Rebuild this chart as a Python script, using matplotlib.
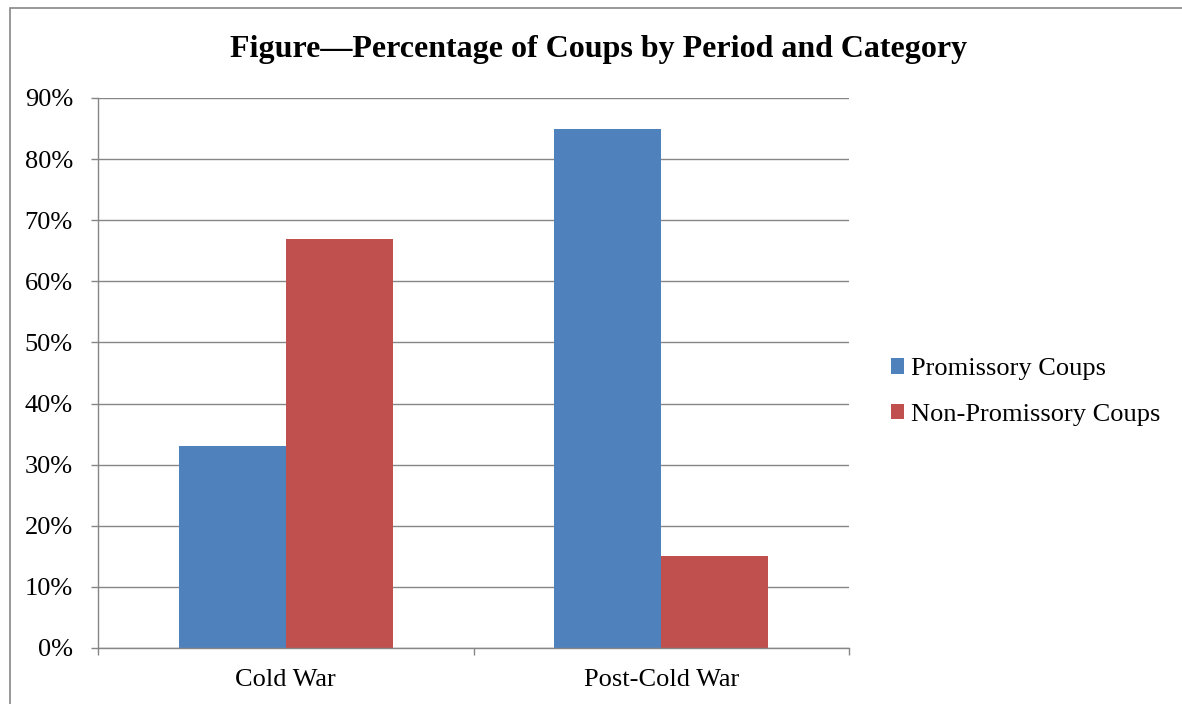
import matplotlib
matplotlib.use("Agg")
import matplotlib.pyplot as plt
from matplotlib.patches import Rectangle, Patch
import numpy as np

categories = ["Cold War", "Post-Cold War"]
series_names = ["Promissory Coups", "Non-Promissory Coups"]
promissory = [33, 85]
non_promissory = [67, 15]
yticks = [0, 10, 20, 30, 40, 50, 60, 70, 80, 90]
ytick_labels = ["0%", "10%", "20%", "30%", "40%", "50%", "60%", "70%", "80%", "90%"]
title = "Figure\u2014Percentage of Coups by Period and Category"

colors = ["#4F81BD", "#C0504D"]
grid_col = "#868686"

plt.rcParams["font.family"] = ["Liberation Serif", "DejaVu Serif"]

fig = plt.figure(figsize=(11.82, 7.04), dpi=100)
ax = fig.add_axes([98 / 1182, 1 - 648 / 704, (849 - 98) / 1182, (648 - 98) / 704])

centers = np.arange(len(categories)) + 0.5
w = 0.285
ax.bar(centers - w / 2, promissory, width=w, color=colors[0], label=series_names[0], zorder=3)
ax.bar(centers + w / 2, non_promissory, width=w, color=colors[1], label=series_names[1], zorder=3)

ax.set_xlim(0, len(categories))
ax.set_ylim(0, 90)
ax.set_yticks(yticks)
ax.set_yticklabels(ytick_labels)
ax.set_xticks(np.arange(len(categories) + 1))
ax.set_xticklabels([])
ax.set_xticks(centers, minor=True)
ax.set_xticklabels(categories, minor=True)

ax.tick_params(axis="y", direction="out", length=5, width=1, color=grid_col, labelsize=19, pad=13)
ax.tick_params(axis="x", which="major", direction="out", length=5, width=1, color=grid_col)
ax.tick_params(axis="x", which="minor", length=0, labelsize=19, pad=15)

ax.yaxis.grid(True, color=grid_col, linewidth=1.0, zorder=0)
ax.set_axisbelow(True)
for s in ["top", "right"]:
    ax.spines[s].set_visible(False)
for s in ["left", "bottom"]:
    ax.spines[s].set_color(grid_col)
    ax.spines[s].set_linewidth(1.0)
    ax.spines[s].set_zorder(4)

fig.text(599 / 1182, 1 - 49 / 704, title, ha="center", va="center", fontsize=23.0, fontweight="bold")

handles = [Patch(facecolor=c, edgecolor="none") for c in colors]
fig.legend(handles, series_names, loc="center left", bbox_to_anchor=(891 / 1182, 1 - 392 / 704),
           frameon=False, fontsize=19, handlelength=0.5, handleheight=0.5,
           handletextpad=0.25, labelspacing=0.88, borderpad=0, borderaxespad=0)

fig.patches.append(Rectangle((10 / 1182, -0.1), 1.2, 1.1 - 8 / 704, transform=fig.transFigure,
                             fill=False, edgecolor=grid_col, linewidth=1.2))

fig.savefig("out.png", dpi=100)
